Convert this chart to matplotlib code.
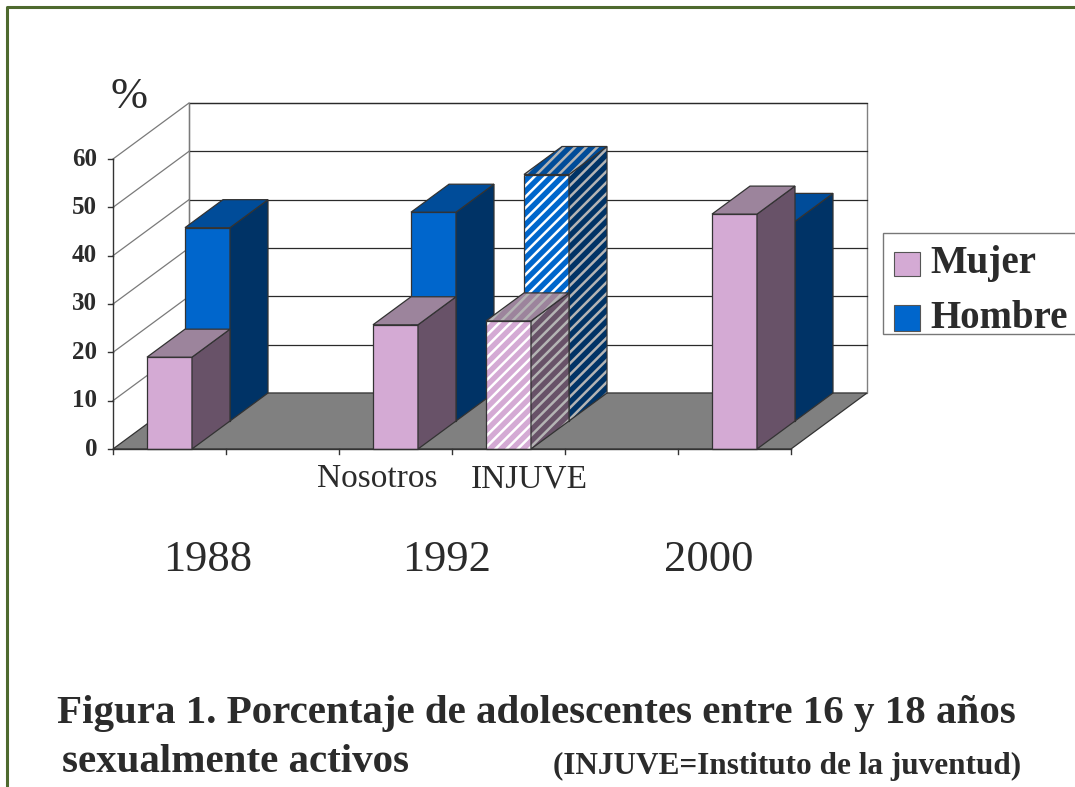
import matplotlib

matplotlib.use("Agg")
import matplotlib.pyplot as plt
from matplotlib.patches import Polygon, Rectangle

# data
BAR_SLOTS = [0, 2, 3, 5]          # category slot of each bar pair (6 slots on the floor)
MUJER = [19.0, 25.7, 26.5, 48.6]
HOMBRE = [40.0, 43.2, 51.0, 41.3]
HATCHED = [False, False, True, False]
SERIES = ["Mujer", "Hombre"]
Y_TICKS = [0, 10, 20, 30, 40, 50, 60]
SUB_LABELS = ["Nosotros", "INJUVE"]
YEAR_LABELS = ["1988", "1992", "2000"]

N_SLOTS = 6
Y_MAX = 60

# pixel layout of the reference
W, H = 1075, 787
ORIGIN_X, ORIGIN_Y = 113, 449
PX_PER_SLOT = 113
PX_PER_UNIT = 290 / 60
ROW_DX_PX, ROW_DY_PX = 38, 28
BAR_W = 45 / 113

DX = ROW_DX_PX / PX_PER_SLOT
DY = ROW_DY_PX / PX_PER_UNIT

COLORS = {
    "Mujer": {"front": "#d4aad4", "top": "#9c849c", "side": "#685268"},
    "Hombre": {"front": "#0066cc", "top": "#004c99", "side": "#003366"},
}
EDGE = "#333333"
TEXT = "#2b2b2b"
SERIF = ["Liberation Serif", "DejaVu Serif"]
plt.rcParams["hatch.linewidth"] = 1.8


def proj(c, v, d):
    return (c + d * DX, v + d * DY)


def fx(px):
    return px / W


def fy(py):
    return 1 - py / H


def draw_bar(ax, slot, value, row, colors, hatched):
    c0 = slot + (1 - BAR_W) / 2
    c1 = c0 + BAR_W
    d0, d1 = row, row + 1
    faces = {
        "front": [proj(c0, 0, d0), proj(c1, 0, d0), proj(c1, value, d0), proj(c0, value, d0)],
        "side": [proj(c1, 0, d0), proj(c1, 0, d1), proj(c1, value, d1), proj(c1, value, d0)],
        "top": [proj(c0, value, d0), proj(c1, value, d0), proj(c1, value, d1), proj(c0, value, d1)],
    }
    for name, pts in faces.items():
        ax.add_patch(Polygon(pts, closed=True, facecolor=colors[name], edgecolor="none", zorder=3))
        if hatched:
            hcol = "#ffffff" if name == "front" else "#b4b4b4"
            ax.add_patch(Polygon(pts, closed=True, facecolor="none", edgecolor=hcol,
                                 hatch="///", linewidth=0, zorder=3))
        ax.add_patch(Polygon(pts, closed=True, facecolor="none", edgecolor=EDGE,
                             linewidth=0.9, zorder=3))


fig = plt.figure(figsize=(W / 100, H / 100), dpi=100)
ax = fig.add_axes([0, 0, 1, 1])
ax.set_xlim(-ORIGIN_X / PX_PER_SLOT, (W - ORIGIN_X) / PX_PER_SLOT)
ax.set_ylim((ORIGIN_Y - H) / PX_PER_UNIT, ORIGIN_Y / PX_PER_UNIT)
ax.axis("off")

# walls and floor
ax.add_patch(Polygon([proj(0, 0, 2), proj(N_SLOTS, 0, 2), proj(N_SLOTS, Y_MAX, 2), proj(0, Y_MAX, 2)],
                     closed=True, facecolor="white", edgecolor="#808080", linewidth=1.0, zorder=1))
ax.add_patch(Polygon([proj(0, 0, 0), proj(N_SLOTS, 0, 0), proj(N_SLOTS, 0, 2), proj(0, 0, 2)],
                     closed=True, facecolor="#808080", edgecolor=EDGE, linewidth=0.9, zorder=2))
for t in Y_TICKS[1:]:
    x0, y0 = proj(0, t, 2)
    x1, y1 = proj(N_SLOTS, t, 2)
    ax.plot([x0, x1], [y0, y1], color="#2a2a2a", linewidth=0.9, zorder=1.5)
    xa, ya = proj(0, t, 0)
    ax.plot([xa, x0], [ya, y0], color="#7a7a7a", linewidth=0.9, zorder=1.5)
xb, yb = proj(0, 0, 2)
xt, yt = proj(0, Y_MAX, 2)
ax.plot([xb, xt], [yb, yt], color="#7a7a7a", linewidth=0.9, zorder=1.5)

# bars: back row first, then front row
for row, (name, values) in reversed(list(enumerate(zip(SERIES, [MUJER, HOMBRE])))):
    for slot, val, hat in zip(BAR_SLOTS, values, HATCHED):
        draw_bar(ax, slot, val, row, COLORS[name], hat)

# value axis and category axis
tick_len_c = 5 / PX_PER_SLOT
tick_len_v = 5 / PX_PER_UNIT
ax.plot([0, 0], [0, Y_MAX], color=EDGE, linewidth=1.0, zorder=4)
ax.plot([0, N_SLOTS], [0, 0], color=EDGE, linewidth=1.0, zorder=4)
for t in Y_TICKS:
    ax.plot([-tick_len_c, 0], [t, t], color=EDGE, linewidth=1.0, zorder=4)
    ax.text(-16 / PX_PER_SLOT, t, str(t), ha="right", va="center", fontsize=18,
            fontweight="bold", family=SERIF, color=TEXT)
for s in range(N_SLOTS + 1):
    ax.plot([s, s], [0, -tick_len_v], color=EDGE, linewidth=1.0, zorder=4)

fig.text(fx(129), fy(97), "%", ha="center", va="center", fontsize=32, family=SERIF, color=TEXT)

for lab, px in zip(SUB_LABELS, [377, 529]):
    fig.text(fx(px), fy(479), lab, ha="center", va="center", fontsize=24, family=SERIF, color=TEXT)
for lab, px in zip(YEAR_LABELS, [208, 447, 709]):
    fig.text(fx(px), fy(560), lab, ha="center", va="center", fontsize=32, family=SERIF, color=TEXT)

# legend box (cut by the right border as in the reference)
fig.patches.append(Rectangle((fx(883), fy(334)), fx(1100) - fx(883), fy(233) - fy(334),
                             transform=fig.transFigure, facecolor="white", edgecolor="#777777",
                             linewidth=1.0, zorder=5))
for name, py in zip(SERIES, [264, 318]):
    fig.patches.append(Rectangle((fx(894), fy(py + 12.5)), fx(920) - fx(894), fy(py - 12.5) - fy(py + 12.5),
                                 transform=fig.transFigure, facecolor=COLORS[name]["front"],
                                 edgecolor="#555555", linewidth=0.8, zorder=6))
    fig.text(fx(930), fy(py), name, ha="left", va="center", fontsize=28, fontweight="bold",
             family=SERIF, color=TEXT, zorder=7)

# caption
fig.text(fx(57), fy(714), "Figura 1. Porcentaje de adolescentes entre 16 y 18 años", ha="left", va="center",
         fontsize=29.5, fontweight="bold", family=SERIF, color=TEXT)
fig.text(fx(62), fy(763), "sexualmente activos", ha="left", va="center",
         fontsize=29.5, fontweight="bold", family=SERIF, color=TEXT)
fig.text(fx(553), fy(766), "(INJUVE=Instituto de la juventud)", ha="left", va="center",
         fontsize=22.5, fontweight="bold", family=SERIF, color=TEXT)

# outer frame
fig.lines.append(plt.Line2D([fx(7), fx(7), fx(1080)], [fy(800), fy(7), fy(7)],
                            transform=fig.transFigure, color="#4e6a2e", linewidth=2.2))

fig.savefig("out.png", dpi=100)
